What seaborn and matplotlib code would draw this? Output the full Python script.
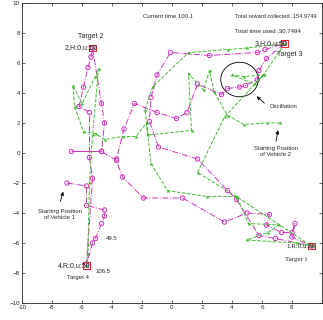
import matplotlib
matplotlib.use("Agg")
import matplotlib.pyplot as plt
from matplotlib.patches import Ellipse
import pandas as pd
import seaborn as sns

# vehicle 1 (magenta) trajectory
v1_x = [-7.0, -5.7, -5.7, -4.5, -4.5, -4.7, -5.1, -5.3, -5.7, -5.3, -5.5, -5.5, -6.2, -5.9,
        -5.6, -5.4, -5.3, -4.7, -4.5, -4.7, -6.7, -4.7, -3.7, -3.3, -1.9, 0.7, 3.5, 5.0,
        6.5, 6.3, 7.3, 8.0, 8.2, 8.0, 9.3, 6.9, 5.8, 4.3, 3.7, 1.7, -0.9, -1.5, -1.4, -1.0,
        -0.1, 2.5, 5.7, 6.2, 7.5, 6.3, 5.8, 5.7, 4.9, 4.5, 3.7, 3.3, 1.7, 1.0, 0.3, -1.0,
        -2.5, -3.2, -3.7]
v1_y = [-2.0, -2.2, -3.5, -3.8, -4.2, -4.7, -5.7, -6.0, -7.4, -1.7, -0.3, 2.7, 3.1, 4.4,
        5.7, 6.4, 7.0, 3.3, 2.0, 0.1, 0.1, 0.1, -0.5, -1.6, -3.0, -3.0, -4.6, -4.0,
        -4.1, -4.8, -5.3, -5.3, -4.7, -5.6, -6.2, -5.7, -5.5, -3.1, -2.5, -0.4, 0.4, 2.1, 3.7, 5.2,
        6.7, 6.5, 6.7, 6.9, 7.3, 6.3, 5.5, 4.9, 4.5, 4.4, 4.3, 3.9, 4.6, 2.7, 2.3, 2.7,
        3.3, 1.6, -0.4]

# vehicle 2 (green) trajectory
v2_x = [7.2, 6.3, 4.8, 3.7, 2.8, 2.5, 2.1, 1.1, 1.3, -1.6, -1.8, -1.3, 1.1, 3.7, 5.0,
        7.5, 6.1, 4.8, 4.0, 5.5, 6.1, 3.5, 1.7, 4.3, 5.1, 7.1, 6.4, 5.0, 8.3, 9.3,
        4.3, 2.3, -0.3, -1.4, -1.7, -2.4, -3.3, -4.5, -5.1, -5.9, -6.5, -6.6, -6.0,
        -5.1, -4.9, -5.3, -5.5, -5.6, -5.6, -5.7]
v2_y = [2.0, 2.0, 1.9, 2.5, 4.1, 5.5, 4.2, 5.3, 1.5, 1.2, 2.9, 4.4, 6.7, 6.9, 7.0,
        7.3, 5.2, 5.1, 5.2, 4.6, 5.2, 2.4, -1.3, -2.9, -4.7, -4.8, -5.3, -5.8, -6.0, -6.2,
        -2.9, -2.9, -2.5, -0.7, 2.0, 1.1, 1.1, 0.9, 1.3, 1.4, 3.1, 4.5, 3.3,
        5.1, 5.6, 1.2, -2.0, -6.1, -6.7, -7.5]

# targets
target_x = [9.3, -5.3, 7.5, -5.7]
target_y = [-6.2, 7.0, 7.3, -7.5]

ticks = list(range(-10, 11, 2))
xtick_labels = [str(t) for t in ticks[:-1]] + [""]

df1 = pd.DataFrame({"x": v1_x, "y": v1_y})
df2 = pd.DataFrame({"x": v2_x, "y": v2_y})

sns.set_style("ticks")
plt.rcParams["font.family"] = ["Liberation Sans", "DejaVu Sans"]

fig = plt.figure(figsize=(3.23, 3.20), dpi=100)
ax = fig.add_axes([22 / 323, 17 / 320, 300 / 323, 300 / 320])

mag = "#cc33bb"
grn = "#44bb33"

sns.lineplot(data=df1, x="x", y="y", sort=False, estimator=None, color=mag,
             linestyle="-.", linewidth=0.7, ax=ax)
sns.scatterplot(data=df1, x="x", y="y", marker="o", s=10, facecolor="none",
                edgecolor=mag, linewidth=0.7, ax=ax)
sns.lineplot(data=df2, x="x", y="y", sort=False, estimator=None, color=grn,
             linestyle="--", linewidth=0.7, ax=ax)
sns.scatterplot(data=df2, x="x", y="y", marker="*", s=10, color=grn,
                linewidth=0, ax=ax)
sns.scatterplot(x=target_x, y=target_y, marker="s", s=20, facecolor="none",
                edgecolor="#e03030", linewidth=0.8, ax=ax)

ax.add_patch(Ellipse((4.5, 4.9), 2.5, 2.3, fill=False, edgecolor="black", linewidth=0.6))

fs = 4.3
ax.text(-1.95, 9.1, "Current time 100.1", fontsize=fs, va="center")
ax.text(4.2, 9.1, "Total reward collected :154.9749", fontsize=4.1, va="center")
ax.text(4.2, 8.1, "Total time used :30.7494", fontsize=fs, va="center")
ax.text(7.7, 7.3, "3,H:0,u:50", fontsize=5, va="center", ha="right")
ax.text(7.0, 6.6, "Target 3", fontsize=5, va="center")
ax.text(-5.4, 7.8, "Target 2", fontsize=5, va="center", ha="center")
ax.text(-5.0, 7.0, "2,H:0,u:50", fontsize=5, va="center", ha="right")
ax.text(6.5, 3.1, "Oscillation", fontsize=fs, va="center")
ax.text(6.9, 0.1, "Starting Position\nof Vehicle 2", fontsize=fs, va="center", ha="center",
        linespacing=1.1)
ax.text(-7.5, -4.1, "Starting Position\nof Vehicle 1", fontsize=fs, va="center", ha="center",
        linespacing=1.1)
ax.text(-4.4, -5.7, "49.5", fontsize=fs, va="center")
ax.text(-5.1, -7.9, "106.5", fontsize=fs, va="center")
ax.text(-5.4, -7.5, "4,R:0,u:50", fontsize=5, va="center", ha="right")
ax.text(-6.3, -8.3, "Target 4", fontsize=fs, va="center", ha="center")
ax.text(9.6, -6.2, "1,R:0,u:50", fontsize=5, va="center", ha="right", family="Liberation Serif")
ax.text(8.3, -7.1, "Target 1", fontsize=5, va="center", ha="center", family="Liberation Serif")

arrow = dict(arrowstyle="-|>", color="black", linewidth=0.6, mutation_scale=5)
ax.annotate("", xy=(5.5, 3.9), xytext=(6.3, 3.2), arrowprops=arrow)
ax.annotate("", xy=(7.1, 1.7), xytext=(6.9, 0.6), arrowprops=arrow)
ax.annotate("", xy=(-7.2, -2.4), xytext=(-7.5, -3.4), arrowprops=arrow)

ax.set_xlim(-10, 10)
ax.set_ylim(-10, 10)
ax.set_xticks(ticks)
ax.set_xticklabels(xtick_labels)
ax.set_yticks(ticks)
ax.tick_params(direction="in", length=2, width=0.5, labelsize=4.5, pad=1.5,
               top=True, right=True)
for s in ax.spines.values():
    s.set_linewidth(0.6)
ax.set_xlabel("")
ax.set_ylabel("")

fig.savefig("out.png", dpi=100)
